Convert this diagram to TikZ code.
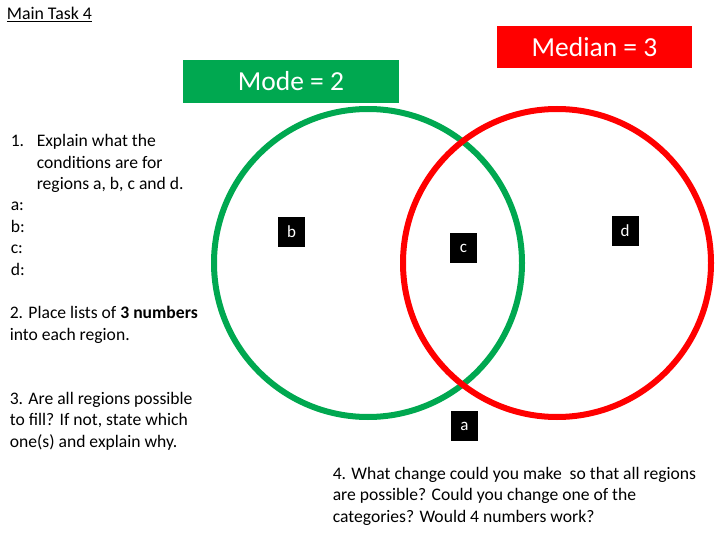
\documentclass[tikz,border=0pt]{standalone}
\usepackage{fontspec}
\setmainfont{Carlito}
\usepackage{tikz}

\begin{document}
\begin{tikzpicture}[x=1pt,y=-1pt,ultra thick]
      \tikzstyle{region}=[fill=black,text=white,minimum width=27pt,minimum height=30pt,inner sep=0pt,font=\fontsize{17}{18}\selectfont]
      \tikzstyle{heading}=[text=white,inner sep=0pt,font=\fontsize{27.5}{30}\selectfont]
      \tikzstyle{task}=[anchor=base west,align=left,inner sep=0pt,font=\fontsize{17.6}{21.4}\selectfont]
      \useasboundingbox (0,0) rectangle (720,540);

      \node [heading,fill={rgb,255:red,0;green,168;blue,80},minimum width=216pt,minimum height=43pt] (mode) at (291,81.5) {Mode = 2};
      \node [heading,fill=red,minimum width=195pt,minimum height=42pt] (median) at (594.5,47) {Median = 3};

      \draw [line width=6pt,draw={rgb,255:red,0;green,168;blue,80}] (368,263) circle (154);
      \draw [line width=6pt,draw=red] (557,263) circle (154);

      \node [region] (b) at (291.5,232) {b};
      \node [region] (c) at (463.5,248) {c};
      \node [region] (d) at (625,231) {d};
      \node [region] (a) at (464.5,426) {a};

      % base of a block = baseline of its last line
      \node [anchor=base west,inner sep=0pt,font=\fontsize{17.8}{18}\selectfont] (title) at (6,20) {\underline{Main Task 4}};
      \node [task] (q1) at (10,275) {\makebox[26pt][l]{1.}Explain what the\\
        \hspace*{26pt}conditions are for\\
        \hspace*{26pt}regions a, b, c and d.\\
        a:\\ b:\\ c:\\ d:};
      \node [task] (q2) at (9,340) {2. Place lists of \textbf{3 numbers}\\ into each region.};
      \node [task] (q3) at (9,447) {3. Are all regions possible\\ to fill? If not, state which\\ one(s) and explain why.};
      \node [task] (q4) at (332,522) {4. What change could you make\ \ so that all regions\\ are possible? Could you change one of the\\ categories? Would 4 numbers work?};
    \end{tikzpicture}
\end{document}
